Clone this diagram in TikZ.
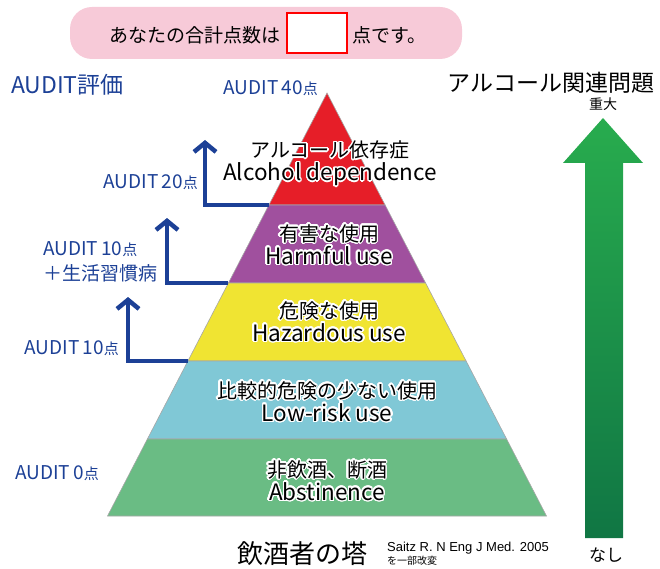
\documentclass[tikz,border=0pt]{standalone}
\usepackage{fontspec}
\setmainfont{Noto Sans CJK JP}
\newfontfamily\citefont{Liberation Sans}
\usepackage[copies]{contour}
\contourlength{1.4pt}
\contournumber{24}
\usetikzlibrary{arrows.meta}

\definecolor{auditblue}{RGB}{28,64,150}
\definecolor{pinkbox}{RGB}{247,202,216}
\definecolor{layerred}{RGB}{230,30,40}
\definecolor{layerpurple}{RGB}{160,80,158}
\definecolor{layeryellow}{RGB}{240,228,50}
\definecolor{layercyan}{RGB}{128,200,214}
\definecolor{layergreen}{RGB}{106,188,132}
\definecolor{risktop}{RGB}{40,172,78}
\definecolor{riskbottom}{RGB}{16,118,68}

\newcommand{\tensu}{{\fontsize{15}{15}\selectfont 点}}
% two lines with a thin white outline
\newcommand{\layertext}[2]{\contour{white}{#1}\\{\fontsize{22.5}{23}\selectfont\contour{white}{#2}}}

\tikzset{
  layer/.style={draw=black!35, line width=0.6pt},
  levellabel/.style={align=center, font=\fontsize{20}{23}\selectfont, inner sep=0pt},
  auditlabel/.style={text=auditblue, font=\fontsize{19}{25}\selectfont, inner sep=0pt},
  auditarrow/.style={draw=auditblue, line width=4.5pt,
    -{Straight Barb[length=9pt,width=22pt]}},
}

\begin{document}
\begin{tikzpicture}[x=1pt,y=-1pt]
  \useasboundingbox (0,0) rectangle (660,569);

  % score box
  \fill[pinkbox, rounded corners=22pt] (70,7) rectangle (462,59);
  \node[anchor=east, font=\fontsize{19}{19}\selectfont, inner sep=0pt] (score) at (281,35) {あなたの合計点数は};
  \node[draw=red, line width=1.2pt, fill=white, minimum width=60pt, minimum height=40pt, inner sep=0pt] (blank) at (317,33) {};
  \node[anchor=west, font=\fontsize{19}{19}\selectfont, inner sep=0pt] (unit) at (352,35) {点です。};

  % headings
  \node[anchor=west, text=auditblue, font=\fontsize{23}{23}\selectfont, inner sep=0pt] (eval) at (11,85) {AUDIT評価};
  \node[anchor=center, font=\fontsize{23}{23}\selectfont, inner sep=0pt] (problem) at (551,83) {アルコール関連問題};
  \node[font=\fontsize{14}{14}\selectfont, inner sep=0pt] (severe) at (603,104) {重大};
  \node[font=\fontsize{17}{17}\selectfont, inner sep=0pt] (none) at (606,555) {なし};

  % pyramid corners
  \coordinate (apex) at (327,93);
  \coordinate (l1) at (268.9,205); \coordinate (r1) at (385.1,205);
  \coordinate (l2) at (228.4,283); \coordinate (r2) at (425.6,283);
  \coordinate (l3) at (187.9,361); \coordinate (r3) at (466.1,361);
  \coordinate (l4) at (147.4,439); \coordinate (r4) at (506.6,439);
  \coordinate (l5) at (107.5,516); \coordinate (r5) at (546.5,516);

  \filldraw[layer, fill=layerred] (apex) -- (r1) -- (l1) -- cycle;
  \filldraw[layer, fill=layerpurple] (l1) -- (r1) -- (r2) -- (l2) -- cycle;
  \filldraw[layer, fill=layeryellow] (l2) -- (r2) -- (r3) -- (l3) -- cycle;
  \filldraw[layer, fill=layercyan] (l3) -- (r3) -- (r4) -- (l4) -- cycle;
  \filldraw[layer, fill=layergreen] (l4) -- (r4) -- (r5) -- (l5) -- cycle;

  \node[levellabel] (dep) at (330,164) {\layertext{アルコール依存症}{Alcohol dependence}};
  \node[levellabel] (harm) at (329,245) {\layertext{有害な使用}{Harmful use}};
  \node[levellabel] (haz) at (329,322) {\layertext{危険な使用}{Hazardous use}};
  \node[levellabel] (low) at (327,402) {\layertext{比較的危険の少ない使用}{Low-risk use}};
  \node[levellabel] (abst) at (327,481) {\layertext{非飲酒、断酒}{Abstinence}};

  % AUDIT steps
  \coordinate (t20) at (205,140);
  \coordinate (t10b) at (167,218);
  \coordinate (t10) at (128,297);
  \draw[auditarrow] (l1) -| (t20);
  \draw[auditarrow] (l2) -| (t10b);
  \draw[auditarrow] (l3) -| (t10);

  \node[auditlabel, anchor=east] (a40) at (318,88) {AUDIT\,40\tensu};
  \node[auditlabel, anchor=east] (a20) at (198,182) {AUDIT\,20\tensu};
  \node[auditlabel, anchor=west, align=left] (a10b) at (43,262) {AUDIT\,10\tensu\\＋生活習慣病};
  \node[auditlabel, anchor=east] (a10) at (119,348) {AUDIT\,10\tensu};
  \node[auditlabel, anchor=west] (a0) at (15,473) {AUDIT\,0\tensu};

  % severity arrow
  \shade[top color=risktop, bottom color=riskbottom]
    (603,118) -- (643,163) -- (623,163) -- (623,538) -- (585,538) -- (585,163) -- (563,163) -- cycle;

  % caption
  \node[font=\fontsize{26}{26}\selectfont, inner sep=0pt] (title) at (302,554) {飲酒者の塔};
  \node[anchor=west, font=\citefont\fontsize{13}{13}\selectfont, inner sep=0pt] (cite) at (387,548) {Saitz R. N Eng J Med. 2005};
  \node[anchor=west, font=\fontsize{10}{10}\selectfont, inner sep=0pt] (mod) at (387,561) {を一部改変};
\end{tikzpicture}
\end{document}
